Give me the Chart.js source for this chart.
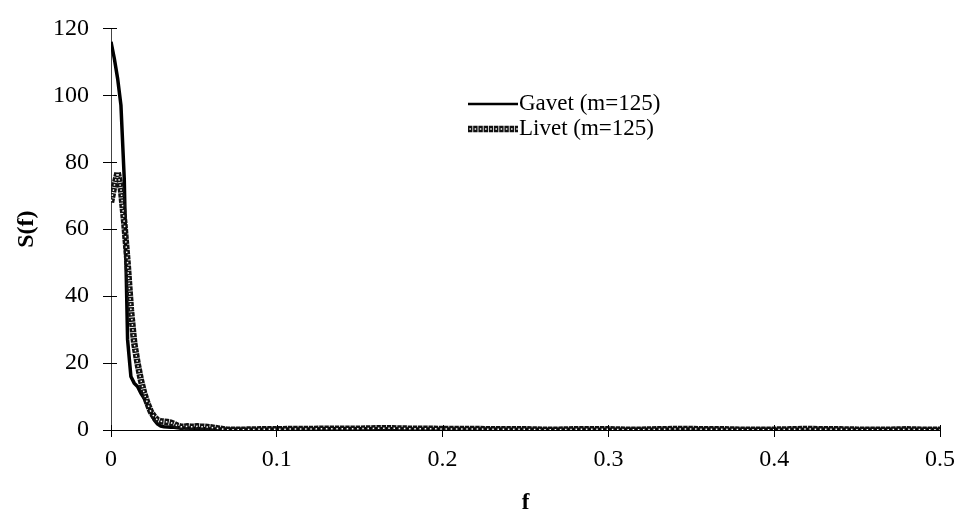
<!DOCTYPE html>
<html>
<head>
<meta charset="utf-8">
<script src="https://cdn.jsdelivr.net/npm/chart.js@4.4.0/dist/chart.umd.min.js"></script>
<style>
  html, body { margin: 0; padding: 0; background: #fff; }
  #wrap { width: 960px; height: 517px; }
</style>
</head>
<body>
<div id="wrap"><canvas id="chart"></canvas></div>
<script>
// frequencies (fine near the origin, coarser further out)
const freq = [
  0, 0.002, 0.004, 0.006, 0.008, 0.010, 0.012, 0.014, 0.016, 0.018,
  0.020, 0.022, 0.024, 0.026, 0.028, 0.030, 0.032, 0.034, 0.036, 0.038,
  0.040, 0.042, 0.044, 0.046, 0.048, 0.050, 0.052, 0.054, 0.056, 0.058,
  0.060, 0.07, 0.08, 0.09, 0.10, 0.11, 0.12, 0.13, 0.14, 0.15,
  0.16, 0.17, 0.18, 0.19, 0.20, 0.21, 0.22, 0.23, 0.24, 0.25,
  0.26, 0.27, 0.28, 0.29, 0.30, 0.31, 0.32, 0.33, 0.34, 0.35,
  0.36, 0.37, 0.38, 0.39, 0.40, 0.41, 0.42, 0.43, 0.44, 0.45,
  0.46, 0.47, 0.48, 0.49, 0.50
];

const gavet = [
  116, 111, 105, 97, 75, 27, 16, 14, 13, 11,
  9.5, 7.5, 5.5, 3, 1.8, 1.2, 1.0, 0.9, 0.8, 0.8,
  0.7, 0.7, 0.6, 0.6, 0.5, 0.5, 0.5, 0.4, 0.4, 0.4,
  0.3, 0.3, 0.2, 0.2, 0.3, 0.3, 0.3, 0.4, 0.4, 0.4,
  0.4, 0.4, 0.3, 0.3, 0.3, 0.3, 0.3, 0.3, 0.2, 0.2,
  0.2, 0.2, 0.2, 0.2, 0.2, 0.2, 0.2, 0.2, 0.3, 0.3,
  0.3, 0.2, 0.2, 0.2, 0.2, 0.2, 0.2, 0.3, 0.2, 0.2,
  0.2, 0.2, 0.2, 0.2, 0.2
];

const livet = [
  68, 73, 77, 72, 62, 50, 36, 26, 20, 15,
  11, 8, 5.5, 4, 3, 2.6, 2.5, 2.4, 2.2, 1.8,
  1.3, 1.0, 1.0, 1.1, 1.0, 1.0, 1.1, 1.0, 1.0, 0.9,
  0.8, 0.1, 0.1, 0.2, 0.2, 0.3, 0.3, 0.4, 0.4, 0.4,
  0.5, 0.5, 0.4, 0.4, 0.3, 0.3, 0.3, 0.2, 0.2, 0.2,
  0.1, 0.1, 0.2, 0.2, 0.2, 0.1, 0.1, 0.2, 0.3, 0.3,
  0.2, 0.2, 0.1, 0.1, 0.1, 0.2, 0.3, 0.2, 0.2, 0.1,
  0.1, 0.1, 0.2, 0.1, 0.1
];

const xTicks = [0, 0.1, 0.2, 0.3, 0.4, 0.5];
const xTickLabels = ['0', '0.1', '0.2', '0.3', '0.4', '0.5'];
const yTicks = [0, 20, 40, 60, 80, 100, 120];
const seriesNames = ['Gavet (m=125)', 'Livet (m=125)'];

const FONT = "'Liberation Serif', 'DejaVu Serif', serif";

let pts = (arr) => freq.map((f, i) => ({ x: f, y: arr[i] }));

// ring chain look: dark dashed band, white dots in the middle of each dash
function ringStroke(ctx, drawPath) {
  ctx.strokeStyle = '#111';
  ctx.lineWidth = 6.5;
  ctx.setLineDash([4.4, 0.8]);
  ctx.lineDashOffset = 0;
  drawPath();
  ctx.strokeStyle = '#fff';
  ctx.lineWidth = 1.5;
  ctx.setLineDash([1.5, 3.7]);
  ctx.lineDashOffset = -1.45;
  drawPath();
  ctx.setLineDash([]);
  ctx.lineDashOffset = 0;
}

// inner half of the tick marks (they cross the axes) + legend
const extrasPlugin = {
  id: 'paperExtras',
  afterDraw(chart) {
    let ctx = chart.ctx;
    let xs = chart.scales.x, ys = chart.scales.y;
    let a = chart.chartArea;
    ctx.save();
    ctx.strokeStyle = '#000';
    ctx.lineWidth = 1;
    yTicks.forEach(v => {
      let y = Math.round(ys.getPixelForValue(v)) + 0.5;
      ctx.beginPath();
      ctx.moveTo(a.left, y);
      ctx.lineTo(a.left + 6, y);
      ctx.stroke();
    });
    xTicks.forEach(v => {
      let x = Math.round(xs.getPixelForValue(v)) + 0.5;
      ctx.beginPath();
      ctx.moveTo(x, a.bottom);
      ctx.lineTo(x, a.bottom - 5);
      ctx.stroke();
    });

    // legend
    let x0 = 468, x1 = 518;
    let rows = [104, 129];
    ctx.strokeStyle = '#000';
    ctx.lineWidth = 2.5;
    ctx.beginPath();
    ctx.moveTo(x0, rows[0]);
    ctx.lineTo(x1, rows[0]);
    ctx.stroke();
    ringStroke(ctx, () => {
      ctx.beginPath();
      ctx.moveTo(x0, rows[1]);
      ctx.lineTo(x1, rows[1]);
      ctx.stroke();
    });
    ctx.fillStyle = '#000';
    ctx.font = '23px ' + FONT;
    ctx.textBaseline = 'middle';
    ctx.textAlign = 'left';
    ctx.fillText(seriesNames[0], x1 + 1, rows[0]);
    ctx.fillText(seriesNames[1], x1 + 1, rows[1]);
    ctx.restore();
  }
};

let ctx = document.getElementById('chart').getContext('2d');
let chart = new Chart(ctx, {
  type: 'line',
  data: {
    datasets: [
      {
        label: seriesNames[1] + ' holes',
        data: pts(livet),
        borderColor: '#fff',
        borderWidth: 1.5,
        borderDash: [1.5, 3.7],
        borderDashOffset: -1.45,
        pointRadius: 0,
        tension: 0,
        order: 0
      },
      {
        label: seriesNames[1],
        data: pts(livet),
        borderColor: '#111',
        borderWidth: 6.5,
        borderDash: [4.4, 0.8],
        pointRadius: 0,
        tension: 0,
        order: 1
      },
      {
        label: seriesNames[0],
        data: pts(gavet),
        borderColor: '#000',
        borderWidth: 3.5,
        pointRadius: 0,
        tension: 0,
        order: 2
      }
    ]
  },
  options: {
    responsive: true,
    maintainAspectRatio: false,
    animation: false,
    layout: { padding: { top: 23, right: 20, left: 0, bottom: 0 } },
    plugins: {
      legend: { display: false },
      tooltip: { enabled: false }
    },
    scales: {
      x: {
        type: 'linear',
        min: 0,
        max: 0.5,
        afterBuildTicks: (s) => { s.ticks = xTicks.map(v => ({ value: v })); },
        afterFit: (s) => { s.height = 87; s.paddingRight = 0; s.paddingLeft = 0; },
        border: { display: true, color: '#000', width: 1 },
        grid: { drawOnChartArea: false, drawTicks: true, tickLength: 7, color: '#000' },
        ticks: {
          color: '#000',
          padding: 8,
          font: { family: FONT, size: 24 },
          callback: (v, i) => xTickLabels[i]
        },
        title: {
          display: true,
          text: 'f',
          color: '#000',
          font: { family: FONT, size: 23, weight: 'bold' },
          padding: { top: 4, bottom: 0 }
        }
      },
      y: {
        type: 'linear',
        min: 0,
        max: 120,
        afterBuildTicks: (s) => { s.ticks = yTicks.map(v => ({ value: v })); },
        afterFit: (s) => { s.width = 111; },
        border: { display: true, color: '#444', width: 1 },
        grid: { drawOnChartArea: false, drawTicks: true, tickLength: 8, color: '#000' },
        ticks: {
          color: '#000',
          padding: 14,
          font: { family: FONT, size: 24 }
        },
        title: {
          display: true,
          text: 'S(f)',
          color: '#000',
          font: { family: FONT, size: 24, weight: 'bold' },
          padding: { top: 12, bottom: 0 }
        }
      }
    }
  },
  plugins: [extrasPlugin]
});
</script>
</body>
</html>
